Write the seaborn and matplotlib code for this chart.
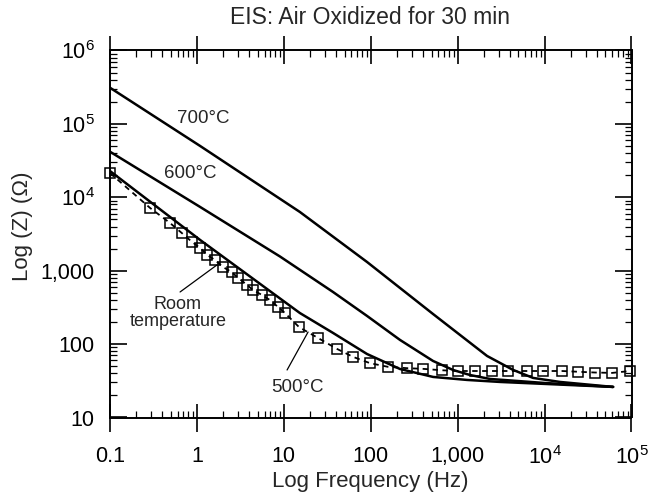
import numpy as np
import pandas as pd
import matplotlib
matplotlib.use('Agg')
import matplotlib.pyplot as plt
import seaborn as sns
from matplotlib.ticker import LogLocator, FixedLocator, FixedFormatter, NullFormatter

# values (frequency in Hz, |Z| in ohm)
rt_freq = [0.1, 0.29, 0.49, 0.67, 0.88, 1.09, 1.31, 1.61, 2.0, 2.5, 3.0, 3.8, 4.4,
           5.6, 6.9, 8.6, 10.3, 15.0, 24.8, 40.9, 62.5, 98, 158, 262, 400, 661, 1010,
           1585, 2490, 3800, 6300, 9600, 15900, 24300, 38100, 59800, 96400]
rt_z = [21400, 7140, 4470, 3260, 2460, 2040, 1640, 1400, 1120, 960, 794, 637, 546,
        467, 399, 320, 265, 170, 121, 86, 67, 55, 49, 47, 46, 44, 43,
        43, 43, 43, 43, 43, 43, 42, 41, 40.5, 43]

f500 = [0.1, 1.09, 15.3, 36.8, 90.6, 217, 521, 1280, 3080, 18200, 61400]
z500 = [22800, 2620, 265, 142, 73.3, 45.8, 35.7, 32.5, 30.5, 27.8, 26.1]

f600 = [0.1, 1.09, 9.04, 36.8, 90.6, 217, 521, 885, 1390, 2360, 10140, 61400]
z600 = [41800, 7380, 1560, 513, 242, 114, 58.9, 44.4, 37.9, 33.5, 29.5, 26.1]

f700 = [0.1, 1.09, 15.3, 90.6, 521, 2180, 4340, 7380, 15070, 61400]
z700 = [311000, 50000, 6310, 1315, 257, 68.9, 44.5, 34.6, 30.5, 26.1]

x_ticks = [0.1, 1, 10, 100, 1000, 1e4, 1e5]
x_ticklabels = ['0.1', '1', '10', '100', '1,000', r'$\mathregular{10^{4}}$', r'$\mathregular{10^{5}}$']
y_ticks = [10, 100, 1000, 1e4, 1e5, 1e6]
y_ticklabels = ['10', '100', '1,000', r'$\mathregular{10^{4}}$', r'$\mathregular{10^{5}}$', r'$\mathregular{10^{6}}$']

sns.set_style('ticks')
plt.rcParams['font.family'] = ['Liberation Sans', 'DejaVu Sans']
plt.rcParams['mathtext.fontset'] = 'custom'
plt.rcParams['mathtext.rm'] = 'Liberation Sans'

fig = plt.figure(figsize=(6.48, 4.98), dpi=100)
ax = fig.add_axes([110 / 648, 1 - 417.5 / 498, 521.5 / 648, 367 / 498])

solid = dict(color='black', lw=1.8, sort=False)
sns.lineplot(x=f700, y=z700, ax=ax, **solid)
sns.lineplot(x=f600, y=z600, ax=ax, **solid)
sns.lineplot(x=f500, y=z500, ax=ax, **solid)
sns.lineplot(x=rt_freq, y=rt_z, ax=ax, color='black', lw=1.3, sort=False,
             linestyle=(0, (3, 2.5)), marker='s', markersize=7.5,
             markerfacecolor='none', markeredgecolor='black', markeredgewidth=1.1,
             clip_on=False)

ax.set_xscale('log')
ax.set_yscale('log')
ax.set_xlim(0.1, 1e5)
ax.set_ylim(10, 1e6)

ax.xaxis.set_major_locator(FixedLocator(x_ticks))
ax.xaxis.set_major_formatter(FixedFormatter(x_ticklabels))
ax.yaxis.set_major_locator(FixedLocator(y_ticks))
ax.yaxis.set_major_formatter(FixedFormatter(y_ticklabels))
ax.xaxis.set_minor_locator(LogLocator(base=10, subs=np.arange(2, 10), numticks=20))
ax.yaxis.set_minor_locator(LogLocator(base=10, subs=np.arange(2, 10), numticks=20))
ax.xaxis.set_minor_formatter(NullFormatter())
ax.yaxis.set_minor_formatter(NullFormatter())

ax.tick_params(which='both', top=True, right=True, colors='black', labelsize=15.5)
ax.tick_params(axis='x', which='major', direction='inout', length=20, width=1.2, pad=10.5)
ax.tick_params(axis='y', which='major', direction='in', length=12, width=1.2, pad=11)
ax.tick_params(which='minor', direction='in', length=5, width=0.9)
for s in ax.spines.values():
    s.set_linewidth(1.4)
    s.set_color('black')

ax.set_xlabel('Log Frequency (Hz)', fontsize=16)
ax.set_ylabel('Log (Z) (\u03a9)', fontsize=16)
ax.xaxis.set_label_coords(0.5, -0.145)
ax.yaxis.set_label_coords(-0.148, 0.52)
fig.text(370.5 / 648, 1 - 17 / 498, 'EIS: Air Oxidized for 30 min',
         ha='center', va='center', fontsize=16.5)

ax.text(1.17, 1.17e5, '700\u00b0C', ha='center', va='center', fontsize=13.5)
ax.text(0.83, 2.14e4, '600\u00b0C', ha='center', va='center', fontsize=13.5)
ax.text(0.605, 265, 'Room\ntemperature', ha='center', va='center', fontsize=13,
        linespacing=1.05)
ax.text(14.2, 26, '500\u00b0C', ha='center', va='center', fontsize=13.5)
ax.plot([0.64, 1.70], [513, 1197], color='black', lw=0.9)
ax.plot([10.9, 19.0], [44.4, 146], color='black', lw=0.9)

fig.savefig('out.png', dpi=100)
